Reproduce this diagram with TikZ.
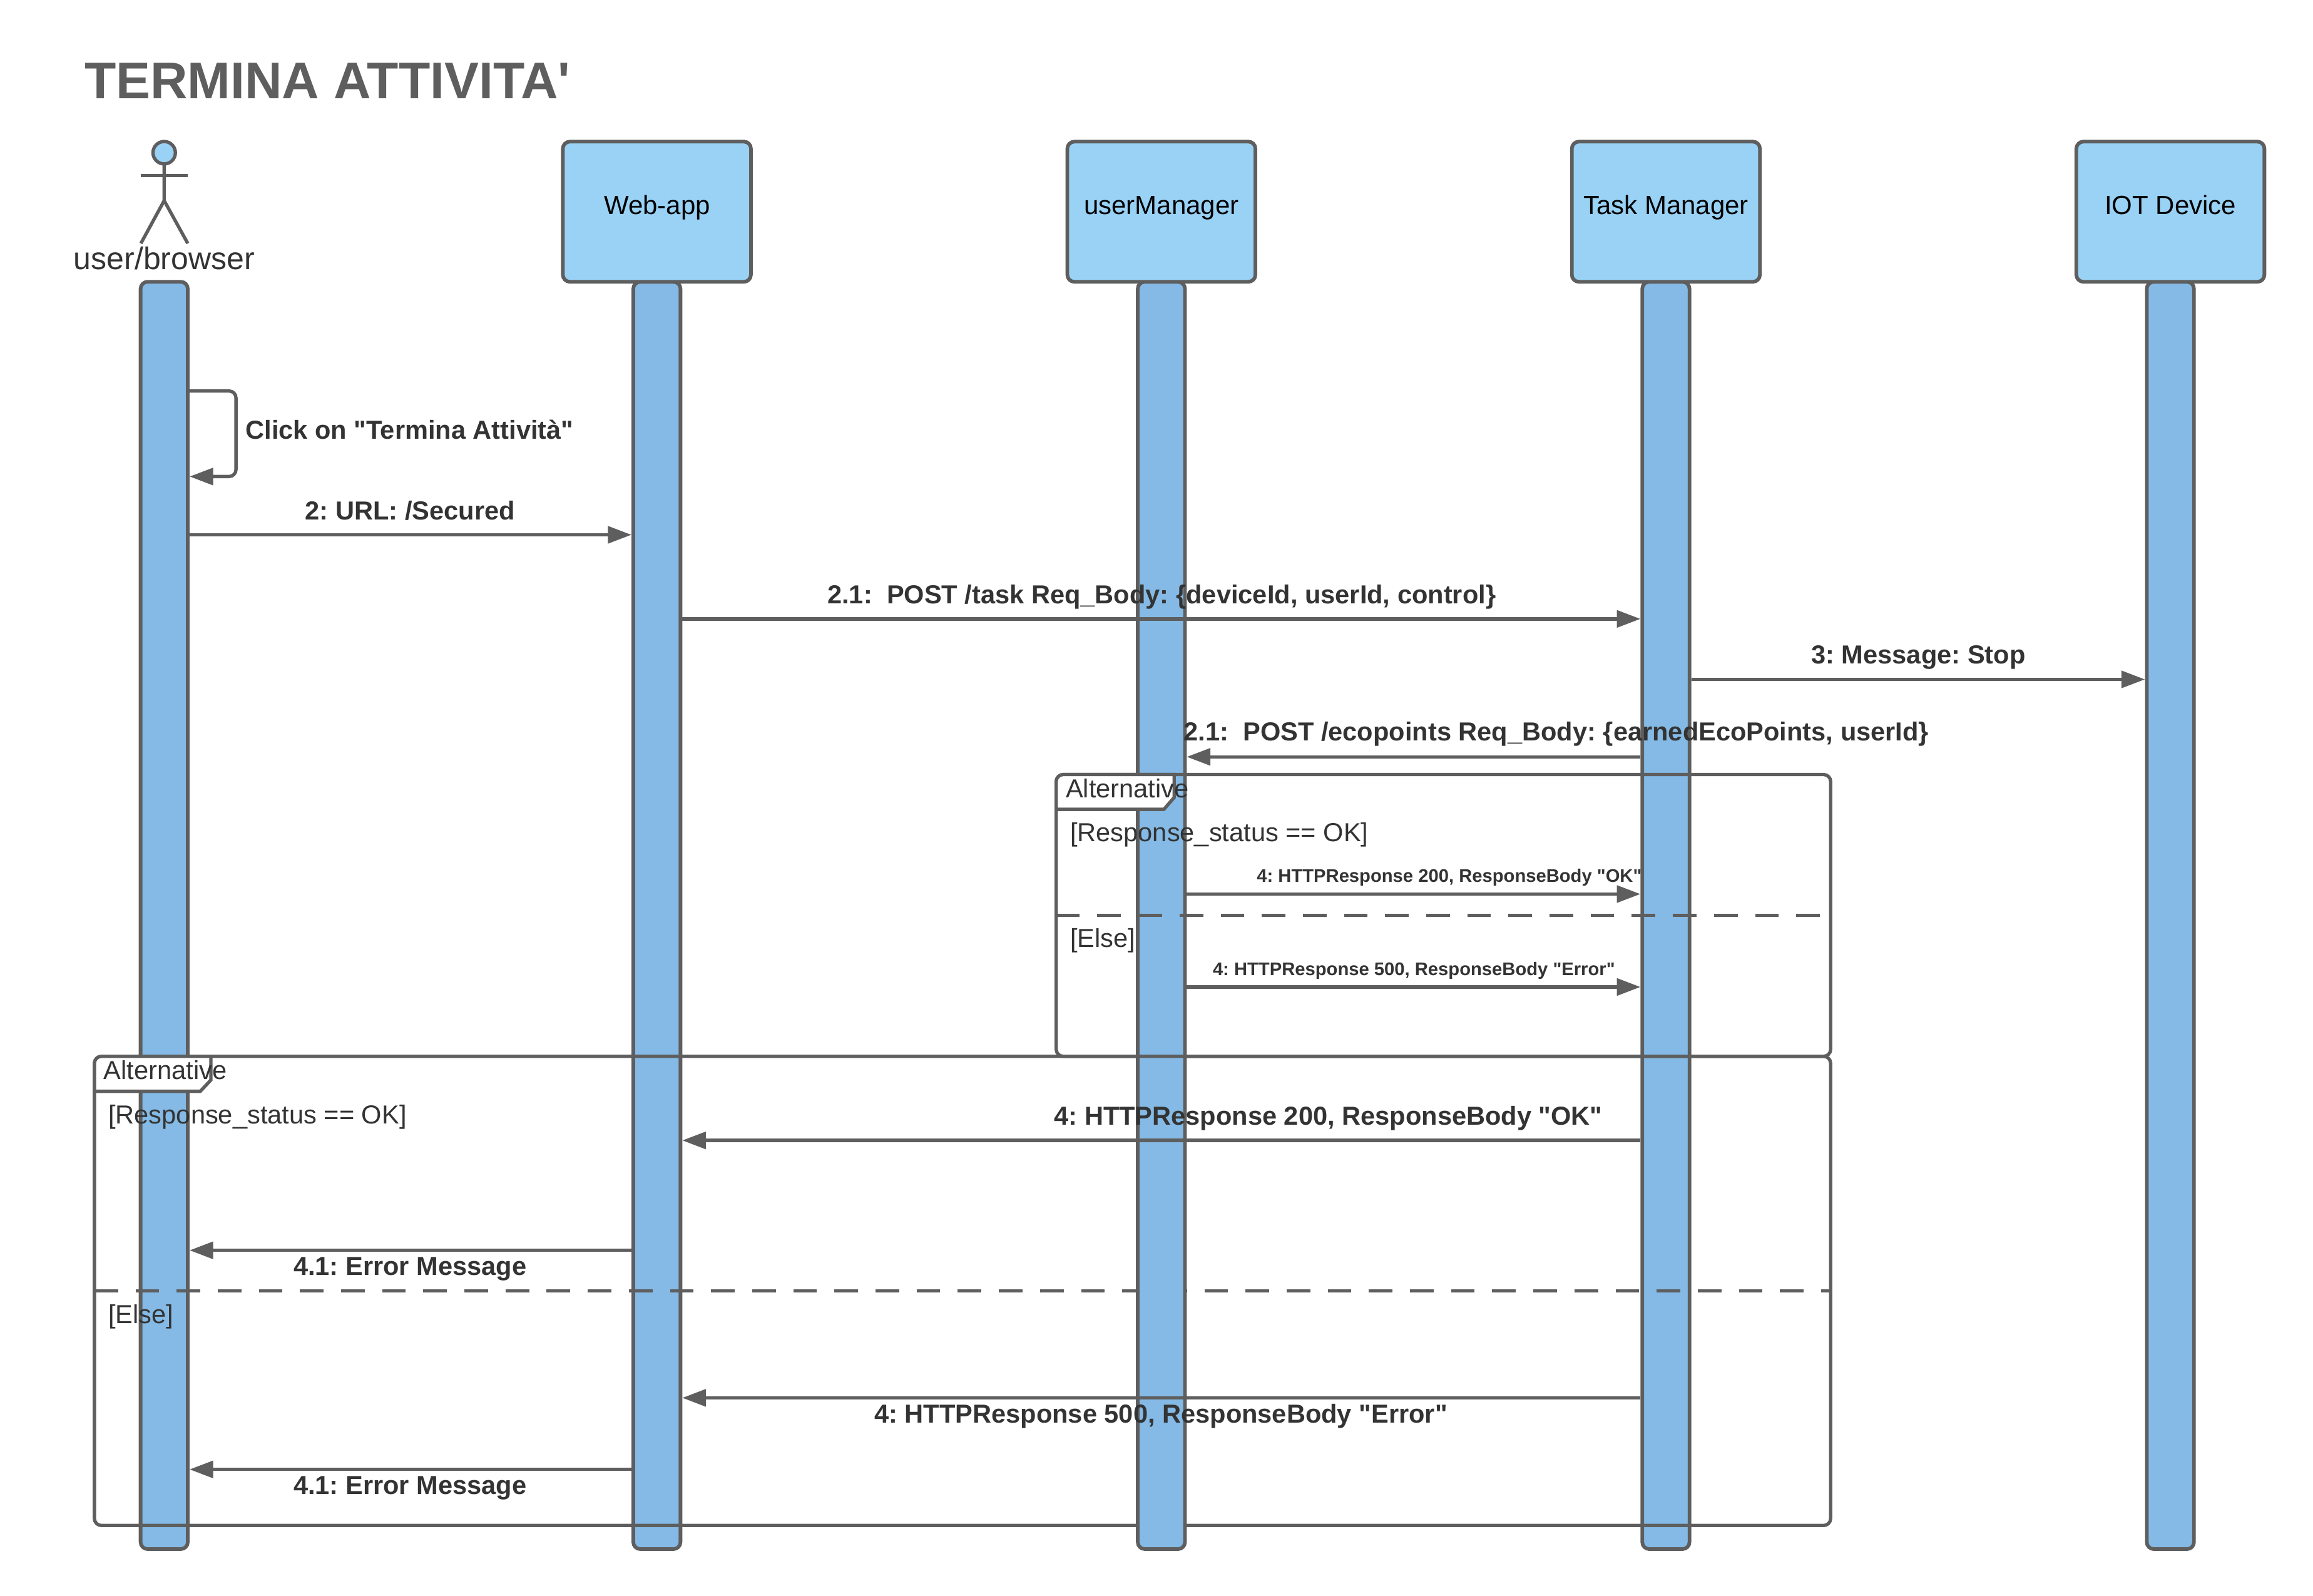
\documentclass[tikz,border=0pt]{standalone}
\usepackage{fontspec}
\setmainfont{Liberation Sans}[Ligatures=TeXOff]
\frenchspacing
\usetikzlibrary{arrows.meta}
\definecolor{ln}{HTML}{5E5E5E}
\definecolor{headfill}{HTML}{99D2F5}
\definecolor{barfill}{HTML}{84BAE5}
\definecolor{txt}{HTML}{333333}
\newlength{\un}\setlength{\un}{0.58929pt}
\tikzset{
  x=\un, y=-\un,
  lifebar/.style={draw=ln,fill=barfill,line width=1.45pt,rounded corners=2.8pt,minimum width=32\un,minimum height=859\un,inner sep=0pt},
  headbox/.style={draw=ln,fill=headfill,line width=1.45pt,rounded corners=2.8pt,minimum width=127.5\un,minimum height=95\un,inner sep=0pt},
  framebox/.style={draw=ln,line width=1.33pt,rounded corners=2.8pt,inner sep=0pt},
  framelabel/.style={draw=ln,fill=white,line width=1.33pt,line join=miter},
  sep/.style={draw=ln,line width=1.33pt,dash pattern=on 16\un off 11.87\un},
  msg/.style={draw=ln,line width=1.33pt,-{Triangle[length=9.4pt,width=6.7pt]}},
  lab/.style={inner sep=0pt,outer sep=0pt,text=txt,font=\fontsize{10.4pt}{12pt}\selectfont\bfseries},
  smalllab/.style={inner sep=0pt,outer sep=0pt,text=txt,font=\fontsize{7.3pt}{9pt}\selectfont\bfseries},
  fr/.style={inner sep=0pt,outer sep=0pt,text=txt,font=\fontsize{10.4pt}{12pt}\selectfont},
  headtxt/.style={inner sep=0pt,outer sep=0pt,text=black,font=\fontsize{10.5pt}{12pt}\selectfont},
}
\begin{document}
\begin{tikzpicture}
\useasboundingbox (0,0) rectangle (1568,1081.8);
% lifelines
\node[lifebar] (b1) at (111.3,620.5) {};
\node[lifebar] (b2) at (445.3,620.5) {};
\node[lifebar] (b4) at (1129.3,620.5) {};
\node[lifebar] (b5) at (1471.3,620.5) {};
% outer frame
\node[framebox,minimum width=1177\un,minimum height=318\un] (f2) at (652.5,875) {};
\filldraw[framelabel] (64,739.7) -- (135.8,739.7) -- (143,732) -- (143,716) [rounded corners=2.8pt] -- (64,716) [sharp corners] -- cycle;
\coordinate (s2a) at (64,875);
\coordinate (s2b) at (1241,875);
\draw[sep] (s2a) -- (s2b);
\node[lifebar] (b3) at (787.3,620.5) {};
% inner frame
\node[framebox,minimum width=525\un,minimum height=191\un] (f1) at (978.5,620.5) {};
\filldraw[framelabel] (716,548.6) -- (789,548.6) -- (796,540.5) -- (796,525) [rounded corners=2.8pt] -- (716,525) [sharp corners] -- cycle;
\coordinate (s1a) at (716,620.5);
\coordinate (s1b) at (1234,620.5);
\draw[sep] (s1a) -- (s1b);
% heads
\node[headbox] (h2) at (445.3,143.5) {};
\node[headbox] (h3) at (787.3,143.5) {};
\node[headbox] (h4) at (1129.3,143.5) {};
\node[headbox] (h5) at (1471.3,143.5) {};
\node[headtxt,anchor=base] (t2) at (445.5,145.5) {Web-app};
\node[headtxt,anchor=base] (t3) at (787.3,145.5) {userManager};
\node[headtxt,anchor=base] (t4) at (1129.3,145.5) {Task Manager};
\node[headtxt,anchor=base] (t5) at (1471.3,145.5) {IOT Device};
% actor
\begin{scope}[draw=ln,line width=1.33pt]
\draw (111.3,111) -- (111.3,136) -- (95.5,165);
\draw (111.3,136) -- (127.3,165);
\draw (95.3,119) -- (127.4,119);
\filldraw[fill=headfill] (111.3,103.5) circle[radius=7.6];
\end{scope}
\node[inner sep=0pt,text=txt,font=\fontsize{12.5pt}{15pt}\selectfont,anchor=base] (actor) at (111.3,182.5) {user/browser};
% title
\node[inner sep=0pt,text=ln,font=\fontsize{20.6pt}{24pt}\selectfont\bfseries,anchor=base west] (title) at (57,67) {TERMINA ATTIVITA'};
% self message
\draw[msg,rounded corners=2.8pt] (b1.east |- 0,265) -- (160,265) -- (160,323) -- (b1.east |- 0,323);
\node[lab,anchor=base west] (m1) at (166.5,297.5) {Click on "Termina Attività"};
% messages
\draw[msg] (b1.east |- 0,362.5) -- (b2.west |- 0,362.5);
\node[lab,anchor=base] (m2) at (278,352.5) {2: URL: /Secured};
\draw[msg] (b2.east |- 0,419.5) -- (b4.west |- 0,419.5);
\node[lab,anchor=base] (m3) at (787.5,409) {2.1:\ \ POST /task Req\_Body: \{deviceId, userId, control\}};
\draw[msg] (b4.east |- 0,460.5) -- (b5.west |- 0,460.5);
\node[lab,anchor=base] (m4) at (1300.5,450) {3: Message: Stop};
\draw[msg] (b4.west |- 0,513) -- (b3.east |- 0,513);
\node[lab,anchor=base] (m5) at (1055,502) {2.1:\ \ POST /ecopoints Req\_Body: \{earnedEcoPoints, userId\}};
\draw[msg] (b3.east |- 0,606) -- (b4.west |- 0,606);
\node[smalllab,anchor=base] (m6) at (982.5,598) {4: HTTPResponse 200, ResponseBody "OK"};
\draw[msg] (b3.east |- 0,669) -- (b4.west |- 0,669);
\node[smalllab,anchor=base] (m7) at (958.5,661) {4: HTTPResponse 500, ResponseBody "Error"};
\draw[msg] (b4.west |- 0,773) -- (b2.east |- 0,773);
\node[lab,anchor=base] (m8) at (900.5,762.5) {4: HTTPResponse 200, ResponseBody "OK"};
\draw[msg] (b2.west |- 0,847.5) -- (b1.east |- 0,847.5);
\node[lab,anchor=base] (m9) at (278,864.5) {4.1: Error Message};
\draw[msg] (b4.west |- 0,947.5) -- (b2.east |- 0,947.5);
\node[lab,anchor=base] (m10) at (787,964.7) {4: HTTPResponse 500, ResponseBody "Error"};
\draw[msg] (b2.west |- 0,996) -- (b1.east |- 0,996);
\node[lab,anchor=base] (m11) at (278,1013) {4.1: Error Message};
% frame texts
\node[fr,anchor=base west] (a1) at (722.5,540.5) {Alternative};
\node[fr,anchor=base west] (g1) at (725.5,570.5) {[Response\_status == OK]};
\node[fr,anchor=base west] (e1) at (725.5,642) {[Else]};
\node[fr,anchor=base west] (a2) at (70.3,731.5) {Alternative};
\node[fr,anchor=base west] (g2) at (73.5,761.5) {[Response\_status == OK]};
\node[fr,anchor=base west] (e2) at (73.5,897) {[Else]};
\end{tikzpicture}
\end{document}
